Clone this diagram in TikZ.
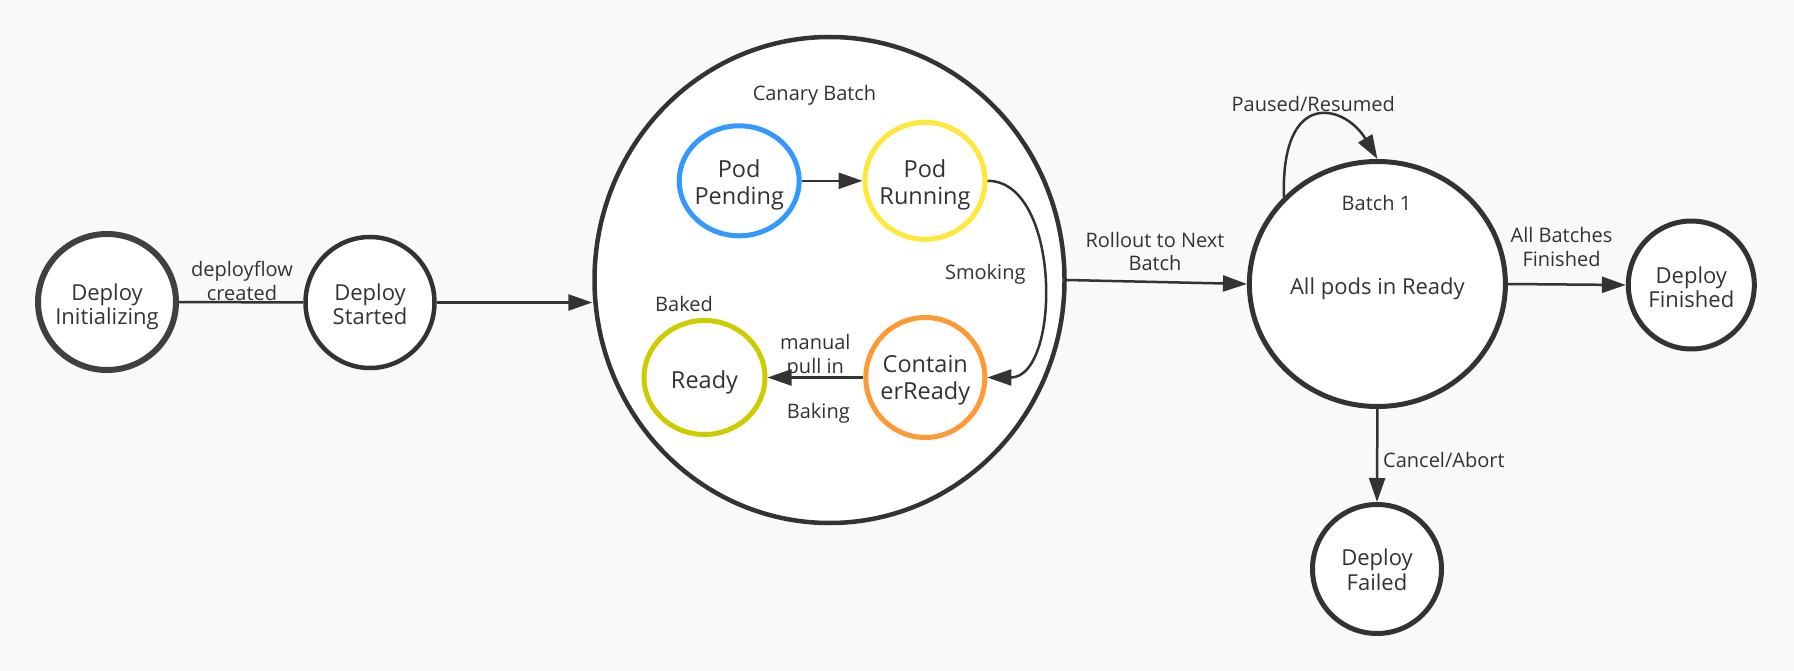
\documentclass[tikz,border=0pt]{standalone}
\usepackage{fontspec}
\setmainfont{Open Sans}
\usetikzlibrary{arrows.meta,shapes.geometric}
\definecolor{bg}{HTML}{F9F9F9}
\definecolor{ink}{HTML}{333333}
\definecolor{initgray}{HTML}{404040}
\definecolor{podblue}{HTML}{3399FF}
\definecolor{podyellow}{HTML}{FFE83B}
\definecolor{podorange}{HTML}{FF9933}
\definecolor{podolive}{HTML}{CCCC00}
\tikzset{
  state/.style={ellipse, draw=ink, fill=white, line width=5pt, inner sep=0pt},
  stext/.style={text=ink, align=center, inner sep=0pt, font=\fontsize{22}{24.3}\selectfont},
  ptext/.style={stext, font=\fontsize{23.5}{27.2}\selectfont},
  lbl/.style={text=ink, align=center, font=\fontsize{20}{23.7}\selectfont, inner sep=0pt},
  conn/.style={draw=ink, line width=2.5pt},
  arr/.style={conn, -{Triangle[length=24pt,width=16pt]}},
}
\begin{document}
\begin{tikzpicture}[x=1pt,y=-1pt]
\fill[bg] (0,0) rectangle (1794,671);
\useasboundingbox (0,0) rectangle (1794,671);

% outer states
\node[state, line width=6pt, draw=initgray, minimum width=138pt, minimum height=136pt,
  label={[stext, yshift=-5pt]center:{Deploy\\Initializing}}] (init) at (107,302) {};
\node[state, line width=4.5pt, minimum width=129pt, minimum height=131pt,
  label={[stext, yshift=-1.8pt]center:{Deploy\\Started}}] (started) at (370,302.5) {};
\node[state, line width=4.5pt, minimum width=470pt, minimum height=486pt] (canary) at (829.5,280) {};
\node[state, minimum width=256pt, minimum height=245pt,
  label={[stext, yshift=-4.3pt]center:{All pods in Ready}}] (batch) at (1377.4,284) {};
\node[state, minimum width=126pt, minimum height=128pt,
  label={[stext, yshift=-2pt]center:{Deploy\\Finished}}] (finished) at (1691.3,285) {};
\node[state, minimum width=129pt, minimum height=129pt,
  label={[stext, yshift=-0.7pt]center:{Deploy\\Failed}}] (failed) at (1377,569) {};

% canary inner states
\node[state, draw=podblue, minimum width=120pt, minimum height=110pt,
  label={[ptext, yshift=-4.4pt]center:{Pod\\Pending}}] (pending) at (739.2,180.8) {};
\node[state, draw=podyellow, minimum width=120pt, minimum height=117pt,
  label={[ptext, yshift=-4.4pt]center:{Pod\\Running}}] (running) at (925,180.8) {};
\node[state, draw=podorange, minimum width=119pt, minimum height=120pt,
  label={[ptext, yshift=-3pt]center:{Contain\\erReady}}] (container) at (925.3,377.5) {};
\node[state, draw=podolive, minimum width=121pt, minimum height=114pt,
  label={[ptext, yshift=-5.3pt]center:{Ready}}] (ready) at (704.5,377.5) {};

% texts
\node[lbl] (tcanary) at (814.5,95.8) {Canary Batch};
\node[lbl] (tbatch) at (1376.5,203) {Batch 1};

% connectors
\draw[conn] (init.east) -- (started.west);
\node[lbl] (ldeploy) at (242,281) {deployflow\\created};

\draw[arr] (started.east) -- (canary.west |- started.east);

\draw[arr] (pending.east) -- (running.west);
\draw[arr] (running.east) .. controls +(74,0) and +(74,0) .. (container.east);
\node[lbl] (lsmoking) at (985.3,274) {Smoking};

\draw[arr] (container.west) -- (ready.east);
\node[lbl] (lmanual) at (815.3,356.5) {manual\\pull in};
\node[lbl] (lbaking) at (818.3,413) {Baking};
\node[lbl] (lbaked) at (684,304) {Baked};

\draw[arr] (canary.east) -- (batch.west);
\node[lbl] (lrollout) at (1155,251.5) {Rollout to Next\\Batch};

\draw[arr] (batch.137) .. controls +(-3,-110) and +(-32,-54) .. (batch.north);
\node[lbl] (lpaused) at (1313.3,104) {Paused/Resumed};

\draw[arr] (batch.east) -- (finished.west);
\node[lbl] (lall) at (1561.5,247) {All Batches\\Finished};

\draw[arr] (batch.south) -- (failed.north);
\node[lbl, anchor=west] (lcancel) at (1383,460) {Cancel/Abort};
\end{tikzpicture}
\end{document}
